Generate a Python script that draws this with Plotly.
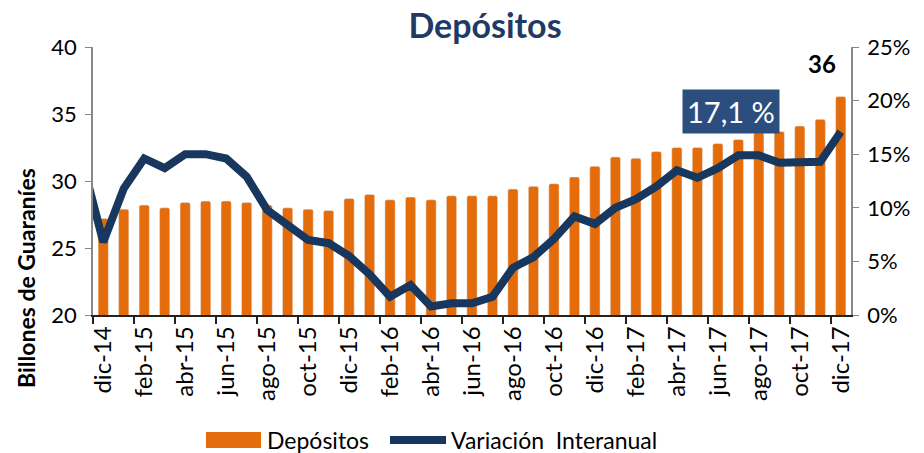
import plotly.graph_objects as go

# ---- data (first month is only used so the line enters from the left edge) ----
months = ["nov-14", "dic-14", "ene-15", "feb-15", "mar-15", "abr-15", "may-15", "jun-15",
          "jul-15", "ago-15", "sep-15", "oct-15", "nov-15", "dic-15", "ene-16", "feb-16",
          "mar-16", "abr-16", "may-16", "jun-16", "jul-16", "ago-16", "sep-16", "oct-16",
          "nov-16", "dic-16", "ene-17", "feb-17", "mar-17", "abr-17", "may-17", "jun-17",
          "jul-17", "ago-17", "sep-17", "oct-17", "nov-17", "dic-17"]

depositos = [None, 27.2, 27.9, 28.2, 28.0, 28.4, 28.5, 28.5, 28.4, 28.2, 28.0, 27.9, 27.8,
             28.7, 29.0, 28.6, 28.8, 28.6, 28.9, 28.9, 28.9, 29.4, 29.6, 29.8, 30.3, 31.1,
             31.8, 31.7, 32.2, 32.5, 32.5, 32.8, 33.1, 33.6, 33.7, 34.1, 34.6, 36.3]

variacion = [14.2, 6.8, 11.8, 14.6, 13.7, 15.0, 15.0, 14.6, 12.9, 9.8, 8.4, 7.0, 6.7,
             5.5, 3.8, 1.7, 2.8, 0.8, 1.1, 1.1, 1.7, 4.4, 5.4, 7.1, 9.2, 8.5,
             10.0, 10.8, 12.0, 13.5, 12.8, 13.7, 14.9, 14.9, 14.2, 14.3, 14.3, 17.1]

idx = list(range(len(months)))
label_vals = idx[1::2]
label_text = months[1::2]
boundary_ticks = [v - 0.5 for v in label_vals]

ORANGE = "#E46C0A"
NAVY = "#17375E"
FONT = "Lato"

fig = go.Figure()
fig.add_trace(go.Bar(x=idx, y=depositos, name="Depósitos",
                     marker=dict(color=ORANGE, cornerradius=2),
                     width=0.5, yaxis="y"))
fig.add_trace(go.Scatter(x=idx, y=variacion, name="Variación Interanual", mode="lines",
                         line=dict(color=NAVY, width=8), yaxis="y2"))

fig.update_layout(
    width=924, height=453,
    margin=dict(l=93, r=73, t=47, b=138),
    paper_bgcolor="white", plot_bgcolor="white",
    showlegend=False,
    font=dict(family=FONT, size=19, color="black"),
    title=dict(text="Depósitos", x=485 / 924, y=1 - 26 / 453, xanchor="center",
               yanchor="middle", xref="container", yref="container",
               font=dict(family=FONT, size=34, color="#1F3A64", weight="bold")),
    xaxis=dict(range=[0.5, len(months) - 0.5], tickmode="array", tickvals=label_vals,
               ticktext=label_text, tickangle=-90, ticks="", showline=True,
               linecolor="#222", linewidth=1.5, showgrid=False, zeroline=False,
               tickfont=dict(size=24), automargin=False,
               minor=dict(tickmode="array", tickvals=boundary_ticks, ticks="outside",
                          ticklen=7, tickcolor="#222", tickwidth=1.5, showgrid=False)),
    yaxis=dict(range=[20, 40], dtick=5, ticks="outside", ticklen=6, tickcolor="#888",
               showline=True, linecolor="#888", linewidth=1.5, showgrid=False,
               zeroline=False, tickfont=dict(size=22), automargin=False,
               ticklabelstandoff=4),
    yaxis2=dict(range=[0, 25], dtick=5, ticksuffix="%", overlaying="y", side="right",
                ticks="outside", ticklen=6, tickcolor="#888", showline=True,
                linecolor="#888", linewidth=1.5, showgrid=False, zeroline=False,
                tickfont=dict(size=22), automargin=False, ticklabelstandoff=4),
)

# y-axis title
fig.add_annotation(text="<b>Billones de Guaraníes</b>", textangle=-90, xref="paper",
                   yref="paper", x=(26 - 93) / 758, y=(315 - 278) / 268,
                   xanchor="center", yanchor="middle", showarrow=False,
                   font=dict(family=FONT, size=23, color="black"))

# last-bar value
fig.add_annotation(text=f"<b>{depositos[-1]:.0f}</b>", x=idx[-1], y=depositos[-1],
                   xref="x", yref="y", showarrow=False, xshift=-19, yshift=33,
                   font=dict(family=FONT, size=24, color="black"))

# last variation value box
fig.add_annotation(text=f"{variacion[-1]:.1f}".replace(".", ",") + " %", x=idx[-1],
                   y=variacion[-1], xref="x", yref="y2", showarrow=False,
                   xshift=-110, yshift=20, bgcolor="#2C4E7E", borderpad=4,
                   font=dict(family=FONT, size=29, color="white"))

# manual legend
def px(x):
    return (x - 93) / 758


def py(y):
    return (315 - y) / 268


fig.add_shape(type="rect", xref="paper", yref="paper", x0=px(206), x1=px(261),
              y0=py(448), y1=py(432), fillcolor=ORANGE, line=dict(width=0))
fig.add_annotation(text="Depósitos", xref="paper", yref="paper", x=px(265), y=py(440),
                   xanchor="left", yanchor="middle", showarrow=False,
                   font=dict(family=FONT, size=23, color="black"))
fig.add_shape(type="line", xref="paper", yref="paper", x0=px(390), x1=px(446),
              y0=py(440), y1=py(440), line=dict(color=NAVY, width=8))
fig.add_annotation(text="Variación\u00a0 Interanual", xref="paper", yref="paper",
                   x=px(449), y=py(440), xanchor="left", yanchor="middle",
                   showarrow=False, font=dict(family=FONT, size=23, color="black"))

fig.write_html("out.html", config={"displayModeBar": False},
               post_script="document.body.style.margin='0';document.body.style.overflow='hidden';")
